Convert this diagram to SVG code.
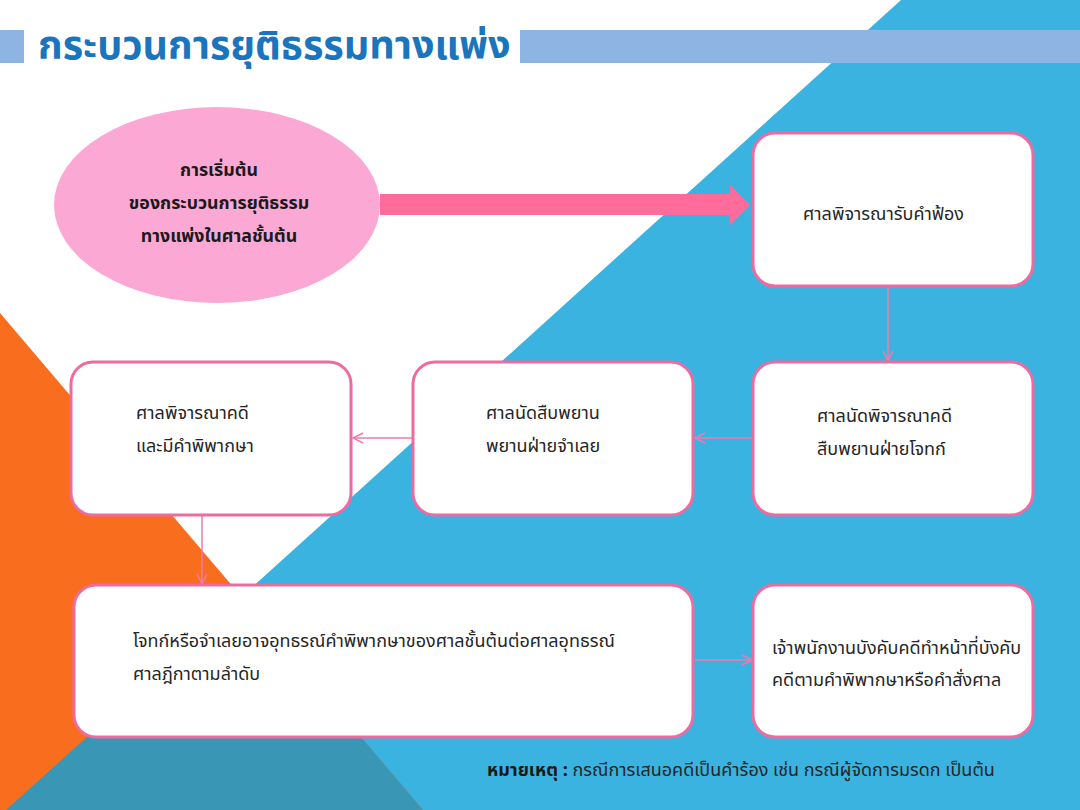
<svg xmlns="http://www.w3.org/2000/svg" width="1080" height="810" viewBox="0 0 1080 810">
<style>
.box{fill:#ffffff;stroke:#EE6BA0;stroke-width:3}
.t{font-family:"Noto Sans Thai","Noto Sans",sans-serif;font-size:18px;fill:#262626}
.tb{font-family:"Noto Sans Thai","Noto Sans",sans-serif;font-size:17.8px;font-weight:bold;fill:#1a1a1a}
.conn{stroke:#F07AAE;stroke-width:1.5;fill:none}
</style>
<defs>
<marker id="arr" viewBox="0 0 12 12" refX="11" refY="6" markerWidth="12" markerHeight="12" markerUnits="userSpaceOnUse" orient="auto">
<path d="M1,1 L11,6 L1,11" fill="none" stroke="#F07AAE" stroke-width="1.5"/>
</marker>
</defs>
<g id="background">
<rect width="1080" height="810" fill="#ffffff"/>
<polygon points="901,0 1080,0 1080,810 6,810" fill="#3AB3E0"/>
<polygon points="0,313 423,810 0,810" fill="#F96D1E"/>
<polygon points="242,597 423,810 6,810" fill="#3A96B5"/>
</g>
<g id="title">
<rect x="0" y="30" width="24" height="33" fill="#8EB4E3"/>
<rect x="520" y="30" width="560" height="33" fill="#8EB4E3"/>
<text x="38" y="59" font-family="'Noto Sans Thai','Noto Sans',sans-serif" font-size="39.5" font-weight="bold" fill="#1B75BC">กระบวนการยุติธรรมทางแพ่ง</text>
</g>
<g id="start">
<ellipse cx="217" cy="205" rx="163" ry="98" fill="#FBA8D5"/>
<text class="tb" x="219" y="176" text-anchor="middle">การเริ่มต้น</text>
<text class="tb" x="219" y="209" text-anchor="middle">ของกระบวนการยุติธรรม</text>
<text class="tb" x="219" y="242" text-anchor="middle">ทางแพ่งในศาลชั้นต้น</text>
</g>
<g id="big-arrow">
<polygon points="380,194 730,194 730,185 750,205 730,225 730,215 380,215" fill="#FF6B9B"/>
</g>
<g id="connectors">
<line class="conn" x1="888" y1="288" x2="888" y2="361" marker-end="url(#arr)"/>
<line class="conn" x1="752" y1="438" x2="695" y2="438" marker-end="url(#arr)"/>
<line class="conn" x1="412" y1="438" x2="353" y2="438" marker-end="url(#arr)"/>
<line class="conn" x1="202" y1="508" x2="202" y2="584" marker-end="url(#arr)"/>
<line class="conn" x1="695" y1="660" x2="752" y2="660" marker-end="url(#arr)"/>
</g>
<g id="n1">
<rect class="box" x="753" y="133" width="280" height="153" rx="22"/>
<text class="t" x="803" y="220">ศาลพิจารณารับคำฟ้อง</text>
</g>
<g id="n2">
<rect class="box" x="753" y="362" width="280" height="153" rx="22"/>
<text class="t" x="817" y="422">ศาลนัดพิจารณาคดี</text>
<text class="t" x="817" y="455">สืบพยานฝ่ายโจทก์</text>
</g>
<g id="n3">
<rect class="box" x="413" y="362" width="280" height="153" rx="22"/>
<text class="t" x="486" y="419">ศาลนัดสืบพยาน</text>
<text class="t" x="486" y="452">พยานฝ่ายจำเลย</text>
</g>
<g id="n4">
<rect class="box" x="71" y="362" width="280" height="153" rx="22"/>
<text class="t" x="136" y="419">ศาลพิจารณาคดี</text>
<text class="t" x="136" y="452">และมีคำพิพากษา</text>
</g>
<g id="n5">
<rect class="box" x="74" y="585" width="619" height="152" rx="22"/>
<text class="t" x="133" y="647">โจทก์หรือจำเลยอาจอุทธรณ์คำพิพากษาของศาลชั้นต้นต่อศาลอุทธรณ์</text>
<text class="t" x="133" y="680">ศาลฎีกาตามลำดับ</text>
</g>
<g id="n6">
<rect class="box" x="753" y="585" width="280" height="152" rx="22"/>
<text class="t" x="772" y="654">เจ้าพนักงานบังคับคดีทำหน้าที่บังคับ</text>
<text class="t" x="772" y="686">คดีตามคำพิพากษาหรือคำสั่งศาล</text>
</g>
<g id="note">
<text class="t" x="487" y="776" font-size="17"><tspan font-weight="bold" fill="#1a1a1a">หมายเหตุ :</tspan> กรณีการเสนอคดีเป็นคำร้อง เช่น กรณีผู้จัดการมรดก เป็นต้น</text>
</g>
</svg>
